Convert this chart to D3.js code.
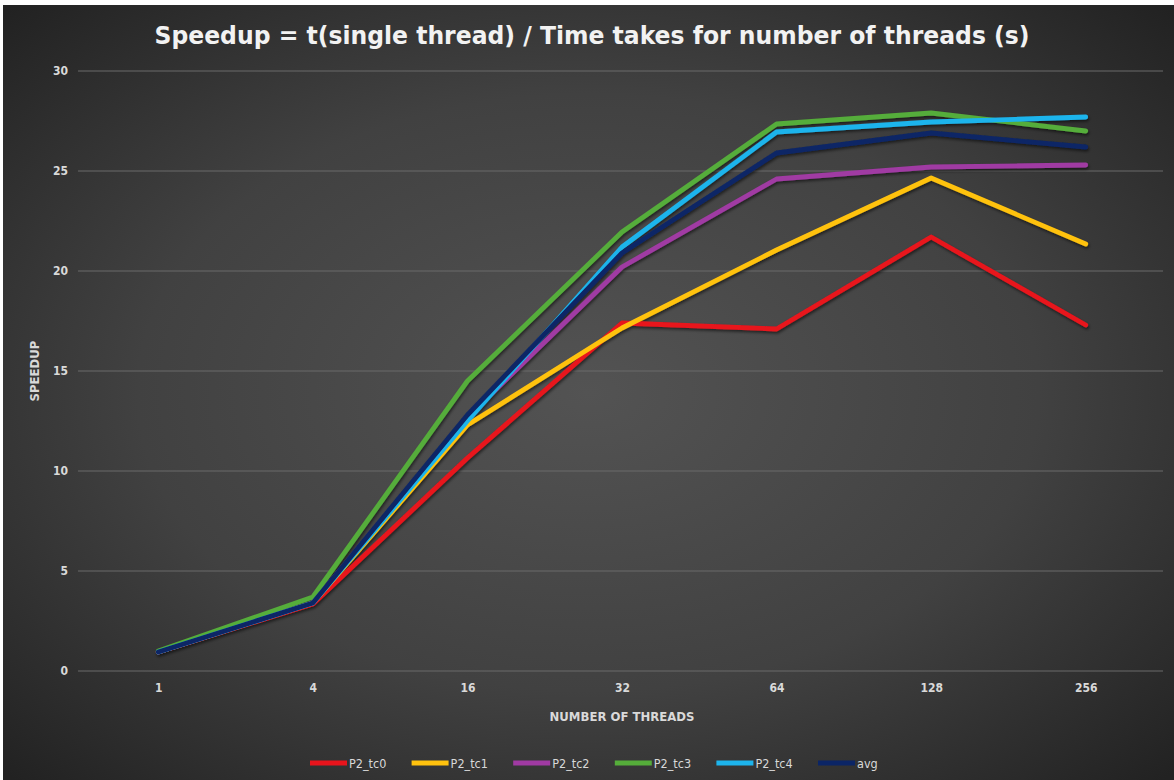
<!DOCTYPE html>
<html>
<head>
<meta charset="utf-8">
<script src="https://cdn.jsdelivr.net/npm/d3@7"></script>
<style>
  html, body { margin: 0; padding: 0; background: #ffffff; }
  svg { display: block; }
  text { font-family: "DejaVu Sans Condensed", "DejaVu Sans", sans-serif; }
</style>
</head>
<body>
<svg id="chart" width="1174" height="780"></svg>
<script>
const categories = ["1", "4", "16", "32", "64", "128", "256"];
const seriesNames = ["P2_tc0", "P2_tc1", "P2_tc2", "P2_tc3", "P2_tc4", "avg"];
const P2_tc0 = [0.95, 3.35, 10.65, 17.4, 17.1, 21.7, 17.3];
const P2_tc1 = [0.95, 3.4, 12.3, 17.15, 21.05, 24.65, 21.35];
const P2_tc2 = [0.95, 3.4, 12.7, 20.2, 24.6, 25.2, 25.3];
const P2_tc3 = [1.0, 3.7, 14.5, 21.95, 27.35, 27.9, 27.0];
const P2_tc4 = [0.95, 3.4, 12.5, 21.2, 26.95, 27.45, 27.7];
const avg    = [0.95, 3.4, 12.8, 20.9, 25.9, 26.9, 26.2];
const seriesColors = ["#e8141c", "#ffc20e", "#a03aa3", "#55ad3a", "#1db4ec", "#0b2566"];
const yTicks = [0, 5, 10, 15, 20, 25, 30];
const titleText = "Speedup = t(single thread) / Time takes for number of threads (s)";
const xTitle = "NUMBER OF THREADS";
const yTitle = "SPEEDUP";

const seriesValues = [P2_tc0, P2_tc1, P2_tc2, P2_tc3, P2_tc4, avg];

const svg = d3.select("#chart");
const W = 1174, H = 780;
const plot = { left: 81, right: 1163, top: 71, bottom: 671 };

const defs = svg.append("defs");
const grad = defs.append("radialGradient").attr("id", "bg")
  .attr("cx", "50%").attr("cy", "50%").attr("r", "70%");
grad.append("stop").attr("offset", "0%").attr("stop-color", "#535353");
grad.append("stop").attr("offset", "55%").attr("stop-color", "#414141");
grad.append("stop").attr("offset", "100%").attr("stop-color", "#222222");

const shadow = defs.append("filter").attr("id", "shadow")
  .attr("x", "-5%").attr("y", "-5%").attr("width", "110%").attr("height", "110%");
shadow.append("feDropShadow").attr("dx", 1).attr("dy", 2).attr("stdDeviation", 1.5)
  .attr("flood-color", "#000").attr("flood-opacity", 0.55);

// background
svg.append("rect").attr("x", 0).attr("y", 0).attr("width", W).attr("height", H).attr("fill", "#ffffff");
svg.append("rect").attr("x", 3).attr("y", 5).attr("width", W - 3).attr("height", H - 5).attr("fill", "url(#bg)");

const x = d3.scalePoint().domain(categories).range([plot.left, plot.right]).padding(0.5);
const y = d3.scaleLinear().domain([0, 30]).range([plot.bottom, plot.top]);

// gridlines
svg.append("g").selectAll("line").data(yTicks).join("line")
  .attr("x1", plot.left - 3).attr("x2", plot.right)
  .attr("y1", d => y(d)).attr("y2", d => y(d))
  .attr("stroke", "#6a6a6a").attr("stroke-width", 1);

// y axis labels
const yAxis = d3.axisLeft(y).tickValues(yTicks).tickSize(0).tickPadding(0);
const gy = svg.append("g").attr("transform", `translate(${plot.left - 13},0)`).call(yAxis);
gy.select(".domain").remove();
gy.selectAll("text").attr("fill", "#d9d9d9").attr("font-size", 12).attr("font-weight", "bold")
  .style("font-family", '"DejaVu Sans Condensed", sans-serif');

// x axis labels
const xAxis = d3.axisBottom(x).tickSize(0).tickPadding(0);
const gx = svg.append("g").attr("transform", `translate(0,${plot.bottom + 12})`).call(xAxis);
gx.select(".domain").remove();
gx.selectAll("text").attr("fill", "#d9d9d9").attr("font-size", 12).attr("font-weight", "bold")
  .style("font-family", '"DejaVu Sans Condensed", sans-serif');

// lines
const line = d3.line().x((d, i) => x(categories[i])).y(d => y(d));
svg.append("g").attr("filter", "url(#shadow)")
  .selectAll("path").data(seriesValues).join("path")
  .attr("d", d => line(d))
  .attr("fill", "none")
  .attr("stroke", (d, i) => seriesColors[i])
  .attr("stroke-width", 4.8)
  .attr("stroke-linejoin", "round")
  .attr("stroke-linecap", "round");

// title
svg.append("text").attr("x", 592).attr("y", 44)
  .attr("text-anchor", "middle").attr("fill", "#f2f2f2")
  .attr("font-size", 24.5).attr("font-weight", "bold")
  .attr("textLength", 875).attr("lengthAdjust", "spacingAndGlyphs")
  .text(titleText);

// axis titles
svg.append("text").attr("x", 622).attr("y", 721)
  .attr("text-anchor", "middle").attr("fill", "#d9d9d9")
  .attr("font-size", 13).attr("font-weight", "bold")
  .text(xTitle);
svg.append("text").attr("transform", `translate(39,${(plot.top + plot.bottom) / 2}) rotate(-90)`)
  .attr("text-anchor", "middle").attr("fill", "#d9d9d9")
  .attr("font-size", 13).attr("font-weight", "bold")
  .text(yTitle);

// legend
const legend = svg.append("g").attr("transform", "translate(310,763)");
const item = legend.selectAll("g").data(seriesNames).join("g")
  .attr("transform", (d, i) => `translate(${i * 101.6},0)`);
item.append("line").attr("x1", 0).attr("x2", 37).attr("y1", 0).attr("y2", 0)
  .attr("stroke", (d, i) => seriesColors[i]).attr("stroke-width", 5);
item.append("text").attr("x", 39).attr("y", 4.5)
  .attr("fill", "#d9d9d9").attr("font-size", 12.5)
  .text(d => d);
</script>
</body>
</html>
